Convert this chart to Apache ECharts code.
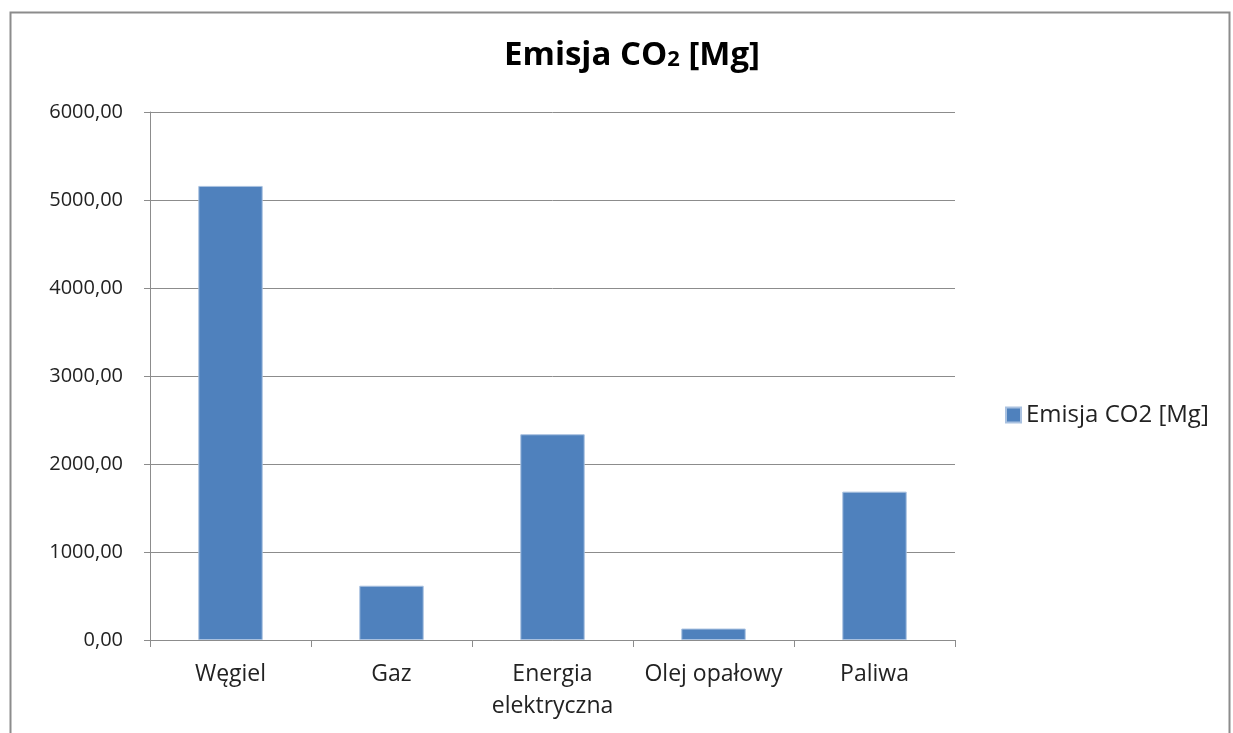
<!DOCTYPE html>
<html>
<head>
<meta charset="utf-8">
<script src="https://cdn.jsdelivr.net/npm/echarts@6/dist/echarts.min.js"></script>
<style>
  html, body { margin: 0; padding: 0; background: #fff; }
  #chart { width: 1233px; height: 733px; }
</style>
</head>
<body>
<div id="chart"></div>
<script>
// Emisja CO2 według nośnika energii [Mg]
const categories = ['Węgiel', 'Gaz', 'Energia\nelektryczna', 'Olej opałowy', 'Paliwa'];
const emissions = [5160, 617, 2338, 130, 1686];
const seriesName = 'Emisja CO2 [Mg]';

const FONT = '"Open Sans", "Noto Sans", sans-serif';
const chart = echarts.init(document.getElementById('chart'));

chart.setOption({
  backgroundColor: '#ffffff',
  animation: false,
  graphic: [{
    type: 'rect',
    shape: { x: 10.5, y: 12.5, width: 1219, height: 740 },
    style: { fill: 'none', stroke: '#8c8c8c', lineWidth: 2 },
    silent: true
  }],
  title: {
    text: 'Emisja CO{sub|2} [Mg]',
    left: 627,
    textAlign: 'center',
    top: 34,
    textStyle: {
      fontFamily: FONT,
      fontSize: 33,
      fontWeight: 'bold',
      color: '#000',
      rich: {
        sub: { fontFamily: FONT, fontSize: 22, fontWeight: 'bold', color: '#000', padding: [9, 0, 0, 0] }
      }
    }
  },
  legend: {
    orient: 'vertical',
    left: 1000,
    top: 398,
    itemWidth: 15,
    itemHeight: 15,
    itemGap: 6,
    icon: 'rect',
    textStyle: { fontFamily: FONT, fontSize: 24, color: '#222', padding: [0, 0, 0, 0] },
    data: [seriesName]
  },
  grid: { left: 150, top: 112, width: 805, height: 528, containLabel: false },
  xAxis: {
    type: 'category',
    data: categories,
    axisLine: { lineStyle: { color: '#8c8c8c', width: 1 } },
    axisTick: { show: true, length: 7, lineStyle: { color: '#8c8c8c' } },
    axisLabel: {
      interval: 0,
      fontFamily: FONT, fontSize: 23, color: '#222', margin: 18, lineHeight: 32
    }
  },
  yAxis: {
    type: 'value',
    min: 0,
    max: 6000,
    interval: 1000,
    axisLine: { show: true, lineStyle: { color: '#8c8c8c', width: 1 } },
    axisTick: { show: true, length: 6, lineStyle: { color: '#8c8c8c' } },
    splitLine: { lineStyle: { color: '#8c8c8c', width: 1 } },
    axisLabel: {
      fontFamily: FONT, fontSize: 20, color: '#222', margin: 27,
      formatter: v => v.toFixed(2).replace('.', ',')
    }
  },
  series: [{
    name: seriesName,
    type: 'bar',
    data: emissions,
    barWidth: '40%',
    itemStyle: { color: '#4f81bd', borderColor: '#a9c1e0', borderWidth: 1 }
  }]
});
</script>
</body>
</html>
